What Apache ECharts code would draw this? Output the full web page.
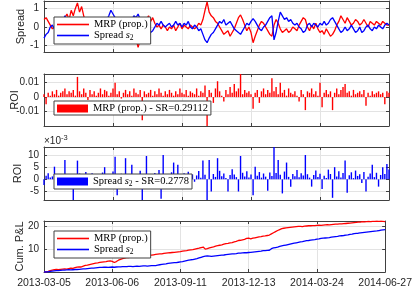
<!DOCTYPE html>
<html><head><meta charset="utf-8">
<script src="https://cdn.jsdelivr.net/npm/echarts@6/dist/echarts.min.js"></script>
<style>html,body{margin:0;padding:0;background:#fff}#c{width:415px;height:289px}</style>
</head><body><div id="c"></div>
<script>
const tickLabels = ['2013-03-05','2013-06-06','2013-09-11','2013-12-13','2014-03-24','2014-06-27'];

const spreadMRP = [
 0.4,0.5,0.3,0.1,-0.1,0.0,0.2,-0.1,0.1,0.3,
 0.5,0.7,0.4,0.9,0.6,1.0,1.3,0.8,1.1,0.6,
 0.2,-0.4,-0.9,-0.6,-0.3,-0.1,0.2,0.0,-0.3,-0.5,
 -0.2,-0.4,-0.6,-0.5,-0.7,-0.4,-0.2,0.1,-0.1,0.2,
 0.0,-0.3,-0.5,-0.8,-0.6,-1.1,-0.7,-0.2,0.1,0.4,
 0.6,0.3,0.5,0.2,0.0,0.1,-0.1,0.1,0.0,-0.2,
 0.0,-0.1,0.1,-0.2,0.0,0.2,-0.1,0.1,0.0,-0.1,
 0.1,0.0,-0.1,0.0,0.2,0.1,0.4,0.9,1.35,0.8,
 0.6,0.5,0.3,0.2,0.0,-0.2,-0.4,-0.3,-0.2,-0.5,
 -0.3,-0.1,0.2,0.5,0.65,0.4,0.1,-0.2,0.0,-0.3,
 -0.85,-0.5,-0.2,0.1,0.3,0.2,0.0,-0.2,-0.4,-0.5,
 0.1,0.4,0.2,-0.1,-0.3,-0.2,-0.1,-0.3,-0.2,0.0,
 -0.1,-0.2,0.1,0.3,0.5,0.4,0.0,-0.2,0.1,-0.1,
 0.2,-0.1,-0.3,-0.2,-0.4,-0.1,-0.3,-0.5,-0.4,-0.2,
 0.1,0.3,0.6,0.4,0.2,0.5,0.3,0.1,0.2,0.4,
 0.3,0.1,0.2,0.4,0.2,0.0,0.3,0.2,0.1,0.3,
 0.2,0.1,0.3,0.2,0.1,0.1];

const spreadS2 = [
 -0.6,-0.4,-0.3,0.0,0.1,-0.1,0.0,0.2,0.0,0.3,
 0.6,0.3,0.2,0.0,-0.3,-0.2,-0.5,-0.3,-0.6,-0.4,
 0.1,0.3,0.5,0.4,0.2,0.0,-0.1,0.1,0.3,0.5,
 0.4,0.6,0.9,0.7,0.5,0.3,0.1,0.0,-0.1,0.0,
 0.2,0.3,0.4,0.6,0.5,0.7,0.4,0.1,-0.2,-0.4,
 -0.5,-0.3,-0.2,0.0,0.2,0.1,0.3,0.1,0.0,0.1,
 0.2,0.0,0.1,0.3,0.1,0.2,0.0,0.2,0.1,0.3,
 0.0,-0.1,0.1,0.0,-0.2,-0.1,-0.4,-0.7,-0.85,-0.6,
 -0.4,-0.3,-0.1,0.1,0.3,0.2,0.4,0.1,0.2,0.3,
 0.1,-0.1,-0.2,-0.3,-0.4,-0.2,0.0,0.2,0.1,0.3,
 0.45,0.3,0.1,-0.1,-0.2,0.0,0.1,0.3,0.5,0.6,
 -0.7,-0.3,0.3,0.8,0.6,0.4,0.5,0.3,0.4,0.2,
 0.1,0.2,0.0,-0.1,-0.3,-0.2,0.1,0.2,0.0,0.2,
 0.1,0.0,0.2,0.1,0.3,0.1,0.2,0.4,0.5,0.3,
 0.1,-0.1,-0.3,-0.2,0.0,-0.2,-0.1,0.1,-0.1,-0.3,
 -0.2,0.0,-0.3,-0.2,0.0,0.1,-0.1,-0.2,0.0,-0.1,
 0.1,0.0,-0.1,0.1,0.2,0.1];

const roiMRP = [
 0.002,-0.005,0.003,0.001,0.004,0.002,0.005,0.001,0.003,0.004,
 0.006,0.002,0.004,0.003,0.005,0.001,0.014,0.004,0.002,0.006,
 0.003,-0.002,0.005,0.002,0.004,0.001,0.003,0.006,0.002,0.005,
 0.004,0.001,0.003,0.006,0.010,0.002,0.004,-0.001,0.003,0.005,
 0.002,0.004,0.001,0.006,0.003,0.002,0.005,-0.016,0.004,0.002,
 0.003,0.005,0.001,0.004,0.002,0.006,0.003,0.001,0.004,0.002,
 0.005,0.003,0.001,0.004,0.002,0.006,0.003,0.002,0.005,0.001,
 0.004,0.003,0.002,0.006,0.001,0.004,0.003,0.008,-0.021,0.005,
 0.003,-0.004,0.006,0.011,0.004,0.001,-0.003,0.005,0.002,0.007,
 0.003,0.009,0.004,0.006,0.017,0.002,0.005,0.003,0.004,0.002,
 -0.008,0.003,0.005,-0.004,0.004,0.006,0.002,0.005,0.003,0.013,
 0.004,0.007,0.002,0.010,0.003,0.005,0.001,0.006,0.003,0.002,
 0.004,0.001,-0.003,0.005,0.002,-0.009,0.004,0.003,0.006,0.002,
 0.004,0.001,0.010,-0.007,0.003,0.005,0.002,0.004,-0.009,0.003,
 0.006,0.002,0.005,0.007,0.009,0.003,0.004,0.001,0.005,0.002,
 0.003,0.004,0.002,0.005,-0.006,0.003,0.001,0.004,0.002,0.003,
 0.004,0.002,0.003,-0.005,0.004,0.003];

// ROI of spread s2, in units of 1e-3 (as on the axis)
const roiS2 = [
 -2.3,1.5,2.5,0.8,1.2,5.2,2.0,0.5,1.8,-1.0,
 8.0,1.0,2.2,0.6,-9.0,1.5,7.7,2.4,0.8,1.6,
 3.0,-1.2,1.0,2.5,0.7,1.9,-2.0,1.2,2.8,5.0,
 1.1,2.0,0.5,3.2,9.3,-6.5,1.4,2.3,0.9,8.7,
 1.7,-1.5,6.0,2.2,0.8,1.5,3.5,-9.0,1.1,9.6,
 2.0,0.7,-2.2,2.6,1.2,3.8,-8.0,10.0,1.4,2.1,
 0.6,2.9,6.9,1.3,6.0,0.9,-1.8,2.5,1.0,3.1,
 0.8,2.0,-1.0,1.6,3.4,0.7,7.7,1.9,-9.0,8.0,
 -5.0,2.2,1.0,8.7,3.5,1.3,2.4,0.6,-5.0,1.8,
 4.1,2.0,0.9,-5.0,9.6,2.7,1.2,3.3,0.8,2.0,
 -6.5,5.2,1.5,3.0,0.7,2.4,1.1,-4.7,2.8,1.4,
 13.5,2.6,8.0,1.9,-5.8,3.2,6.9,1.0,-3.0,2.2,
 1.3,3.8,0.9,2.5,1.6,10.0,2.1,0.7,-3.0,1.8,
 3.6,1.0,2.3,-4.0,1.5,0.6,4.0,2.2,-7.6,5.0,
 1.2,3.3,0.8,2.6,7.7,-5.5,1.7,2.9,0.5,3.6,
 1.4,2.1,-1.5,3.0,-5.0,1.1,2.4,6.0,0.9,2.7,
 -3.0,1.8,5.0,2.2,6.3,4.0];

const cumMRP = [
 0,0.1,0.3,0.6,0.8,1.0,1.1,1.0,1.2,1.3,
 1.4,1.3,1.5,1.7,1.6,1.9,2.1,2.3,2.2,2.6,
 2.9,3.0,3.3,3.5,3.7,3.9,4.0,4.2,4.4,4.5,
 4.6,4.8,4.9,4.7,4.2,4.6,5.2,5.6,5.9,6.1,
 6.3,6.4,6.6,6.5,6.8,6.9,7.0,7.1,7.0,7.2,
 7.3,7.5,7.4,7.6,7.8,7.9,8.0,8.0,8.2,8.3,
 8.4,8.5,8.6,8.7,8.8,8.9,9.0,9.2,9.3,9.4,
 9.6,9.8,9.9,10.1,10.3,10.5,10.8,11.0,10.1,10.3,
 10.6,10.9,11.1,11.4,11.6,11.8,12.0,12.3,12.5,12.6,
 12.8,13.0,13.3,13.5,13.9,14.0,14.2,14.4,14.8,14.9,
 14.6,14.9,15.1,15.3,15.5,15.6,15.8,15.9,16.1,16.3,
 16.8,17.3,17.8,18.3,18.7,19.1,19.3,19.5,19.6,19.7,
 19.8,19.9,20.0,20.1,20.1,20.0,20.2,20.3,20.4,20.4,
 20.5,20.5,20.6,20.7,20.6,20.7,20.8,20.9,20.8,20.9,
 21.0,21.1,21.1,21.2,21.2,21.3,21.4,21.5,21.6,21.7,
 21.8,21.9,22.0,22.0,22.2,22.1,22.2,22.3,22.2,22.3,
 22.3,22.4,22.3,22.4,22.3,22.2];

const cumS2 = [
 0,0.0,0.1,0.3,0.4,0.5,0.6,0.6,0.7,0.8,
 0.8,0.9,1.0,0.9,1.0,1.1,1.1,1.2,1.3,1.4,
 1.4,1.5,1.6,1.7,1.7,1.8,1.9,2.0,2.0,2.1,
 2.1,2.0,2.1,2.2,2.1,2.2,2.3,2.3,2.4,2.4,
 2.4,2.5,2.5,2.4,2.5,2.6,2.5,2.6,2.7,2.7,
 2.6,2.7,2.8,2.8,2.8,3.0,3.2,3.4,3.5,3.6,
 3.8,3.9,4.0,4.1,4.1,4.3,4.5,4.6,4.8,5.0,
 5.2,5.4,5.5,5.7,5.9,6.2,6.5,6.8,7.0,7.1,
 7.0,6.9,7.0,7.1,7.2,7.3,7.4,7.5,7.7,7.8,
 7.9,8.0,8.0,8.1,8.3,8.3,8.4,8.5,8.5,8.6,
 8.7,8.8,8.9,9.0,9.1,9.2,9.4,9.4,9.5,9.6,
 10.3,10.6,10.8,11.0,11.3,11.5,11.7,11.9,12.1,12.3,
 12.5,12.7,12.9,13.1,13.3,13.4,13.6,13.8,13.9,14.1,
 14.2,14.3,14.5,14.6,14.8,14.9,15.0,15.1,15.2,15.4,
 15.5,15.6,15.7,15.9,16.0,16.1,16.3,16.4,16.6,16.7,
 16.9,17.0,17.1,17.3,17.4,17.5,17.6,17.7,17.8,17.9,
 18.0,18.1,18.3,18.5,18.6,18.7];

const seriesNames = ['MRP (prop.)', 'Spread s2', 'MRP (prop.) - SR=0.29112', 'Spread s2 - SR=0.2778'];

const AX = '#404040', TXT = '#262626', GRID = '#e3e3e3';
const grids = [
  {left:44, width:345, top:1, height:51},
  {left:44, width:345, top:74, height:52},
  {left:44, width:345, top:147, height:53},
  {left:44, width:345, top:221, height:52}
];
const yCfg = [
  {min:-1.35, max:1.4, splitNumber:3, name:'Spread', gap:18},
  {min:-0.02, max:0.016, interval:0.01, name:'ROI', gap:24},
  {min:-8.5, max:13.3, splitNumber:4, name:'ROI', gap:21},
  {min:0, max:22.5, interval:10, name:'Cum. P&L', gap:19}
];
const N = spreadMRP.length;
const step = (N-1)/5;
const xAxes = [], yAxes = [];
grids.forEach((g,p)=>{
  const base = {gridIndex:p, type:'value', min:0, max:N-1, interval:step,
    axisLine:{show:true, onZero:false, lineStyle:{color:AX, width:1}},
    axisTick:{show:true, inside:true, length:3, lineStyle:{color:AX}}};
  xAxes.push(Object.assign({}, base, {position:'bottom',
    splitLine:{show:true, lineStyle:{color:GRID, width:1}},
    axisLabel:{show:p===3, color:TXT, fontSize:10.5, margin:6, fontFamily:'Liberation Sans',
      formatter:v=>tickLabels[Math.round(v/step)]}}));
  xAxes.push(Object.assign({}, base, {position:'top', splitLine:{show:false}, axisLabel:{show:false}}));
  const c = yCfg[p];
  const yb = {gridIndex:p, type:'value', min:c.min, max:c.max,
    axisLine:{show:true, onZero:false, lineStyle:{color:AX, width:1}},
    axisTick:{show:true, inside:true, length:3, lineStyle:{color:AX}}};
  if (c.interval) yb.interval = c.interval; else yb.splitNumber = c.splitNumber;
  yAxes.push(Object.assign({}, yb, {position:'left', name:c.name, nameLocation:'middle', nameGap:c.gap,
    nameMoveOverlap:false,
    nameTextStyle:{color:TXT, fontSize:11, fontFamily:'Liberation Sans'},
    splitLine:{show:true, lineStyle:{color:GRID, width:1}},
    axisLabel:{show:true, color:TXT, fontSize:10, margin:5, fontFamily:'Liberation Sans',
      showMinLabel:false, showMaxLabel:false}}));
  yAxes.push(Object.assign({}, yb, {position:'right', splitLine:{show:false}, axisLabel:{show:false}}));
});

const pairs = arr => arr.map((v,i)=>[i,v]);
const RED = '#ff0000', BLUE = '#0000ff';
const series = [
  {type:'line', name:seriesNames[0], xAxisIndex:0, yAxisIndex:0, data:pairs(spreadMRP), symbol:'none', color:RED, lineStyle:{width:1.3}},
  {type:'line', name:seriesNames[1], xAxisIndex:0, yAxisIndex:0, data:pairs(spreadS2), symbol:'none', color:BLUE, lineStyle:{width:1.3}},
  {type:'bar', name:seriesNames[2], xAxisIndex:2, yAxisIndex:2, data:pairs(roiMRP), barWidth:1.4, color:RED},
  {type:'bar', name:seriesNames[3], xAxisIndex:4, yAxisIndex:4, data:pairs(roiS2), barWidth:1.4, color:BLUE},
  {type:'line', name:seriesNames[0], xAxisIndex:6, yAxisIndex:6, data:pairs(cumMRP), symbol:'none', color:RED, lineStyle:{width:1.3}},
  {type:'line', name:seriesNames[1], xAxisIndex:6, yAxisIndex:6, data:pairs(cumS2), symbol:'none', color:BLUE, lineStyle:{width:1.3}}
];

const legText = {color:'#000', fontSize:10.5, fontFamily:'Liberation Serif',
  rich:{i:{fontStyle:'italic', fontSize:10.5, fontFamily:'Liberation Serif'},
        s:{fontSize:7.5, fontFamily:'Liberation Serif', padding:[5,0,0,0]}}};
const legFmt = n => n.replace('s2', '{i|s}{s|2}');
const legBase = {orient:'vertical', selectedMode:false, backgroundColor:'#fff', borderColor:AX, borderWidth:1,
  borderRadius:0, itemWidth:32, itemGap:0, textStyle:legText, formatter:legFmt, icon:'rect'};
const legend = [
  Object.assign({}, legBase, {left:54, top:17, padding:[2,3,2,3], itemHeight:1.6, itemGap:0, data:[seriesNames[0], seriesNames[1]]}),
  Object.assign({}, legBase, {left:54, top:101, padding:[2,3,1,3], itemHeight:8, itemWidth:31, data:[seriesNames[2]]}),
  Object.assign({}, legBase, {left:54, top:174, padding:[2,3,1,3], itemHeight:8, itemWidth:31, data:[seriesNames[3]]}),
  Object.assign({}, legBase, {left:54, top:231, padding:[2,3,2,3], itemHeight:1.6, itemGap:0, data:[seriesNames[0], seriesNames[1]]})
];

const chart = echarts.init(document.getElementById('c'), null, {renderer:'canvas'});
chart.setOption({
  animation:false,
  backgroundColor:'#fff',
  textStyle:{fontFamily:'Liberation Sans'},
  grid:grids,
  xAxis:xAxes,
  yAxis:yAxes,
  legend:legend,
  series:series,
  graphic:[{type:'text', left:44, top:134, style:{
    text:'{a|\u00d710}{b|-3}', fill:TXT,
    rich:{a:{fontSize:10, fontFamily:'Liberation Sans', fill:TXT},
          b:{fontSize:7.5, fontFamily:'Liberation Sans', fill:TXT, padding:[0,0,6,0]}}}}]
});
</script></body></html>
